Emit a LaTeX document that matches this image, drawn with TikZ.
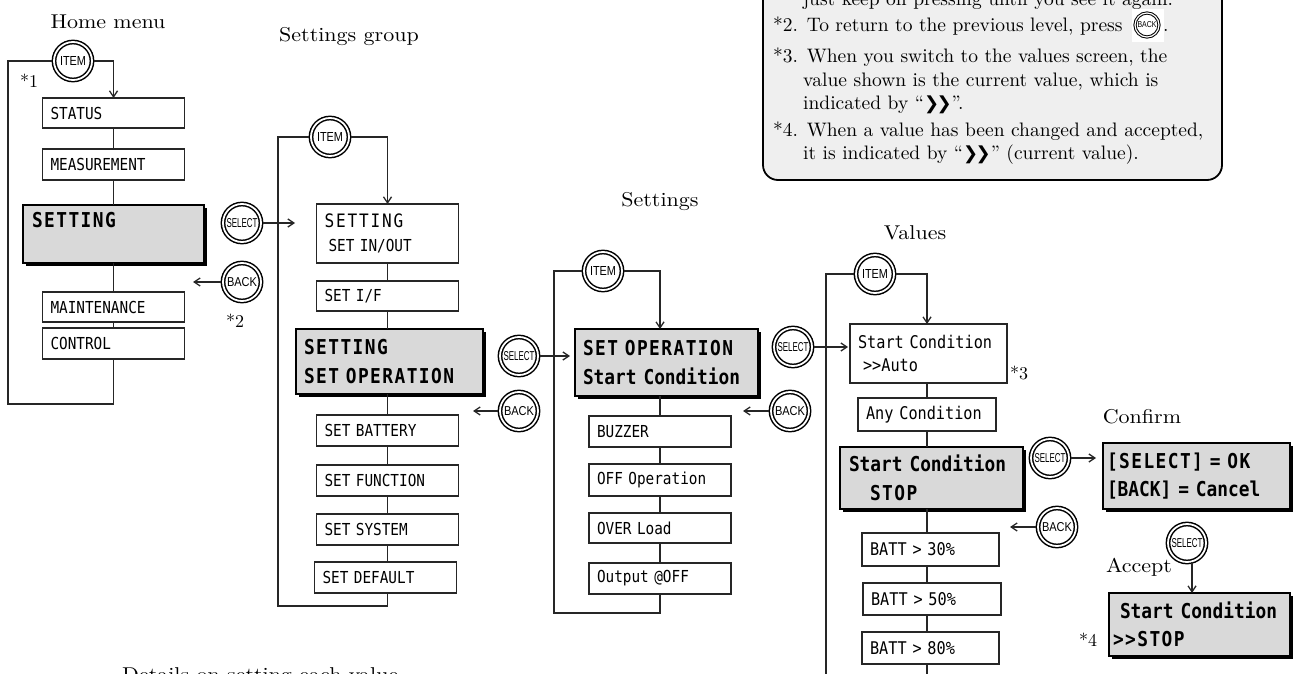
\documentclass[tikz,border=0pt]{standalone}
\usepackage{fontspec}
\usepackage{graphicx}
\usetikzlibrary{arrows.meta,shadows}
% text face: the 10pt design of Latin Modern at every size
\setmainfont{lmroman10-regular.otf}[BoldFont=lmroman10-bold.otf,ItalicFont=lmroman10-italic.otf]
\newfontfamily\lblfont{lmroman10-regular.otf}[FakeStretch=1.1]
% display-panel lettering (narrow monospaced sans)
\newfontfamily\lcd[FakeStretch=0.87]{DejaVu Sans Mono}
\newfontfamily\lcdsp[FakeStretch=0.87,LetterSpace=10]{DejaVu Sans Mono}
\newfontfamily\lcdbs[FakeStretch=0.87,LetterSpace=7]{DejaVu Sans Mono}
\newfontfamily\btnfont{Liberation Sans}
\newfontfamily\chevfont{DejaVu Sans}
\definecolor{lcdgray}{HTML}{D9D9D9}
\definecolor{panel}{HTML}{EFEFEF}
\newcommand\btnlbl[2]{\resizebox{#1}{9pt}{\btnfont #2}}
\newcommand\chevs{{\chevfont\bfseries\fontsize{18}{18}\selectfont ❯\kern-2.5pt❯}}
\begin{document}
\begin{tikzpicture}[x=1pt,y=-1pt,
  wire/.style={line width=1.3pt,draw=black!85},
  arr/.style={wire,-{Straight Barb[length=6pt,width=8pt]}},
  sbox/.style={draw=black!85,line width=1.3pt,fill=white,inner xsep=8pt,inner ysep=0pt,
    outer sep=0pt,align=left,font=\lcd\fontsize{16.5}{20}\selectfont},
  vbox/.style={sbox,font=\lcd\fontsize{17.5}{23}\selectfont},
  lcdbox/.style={draw=black,line width=2pt,fill=lcdgray,inner xsep=8pt,inner ysep=0pt,
    outer sep=0pt,align=left,
    drop shadow={shadow xshift=3pt,shadow yshift=-3pt,opacity=1,fill=black},
    font=\lcd\bfseries\fontsize{20.5}{28.5}\selectfont},
  btn/.style={circle,draw=black,double=white,line width=1.5pt,double distance=1.8pt,
    minimum size=38pt,inner sep=0pt,outer sep=2.4pt},
  lbl/.style={font=\lblfont\fontsize{20}{24}\selectfont,inner sep=0pt},
  starlbl/.style={font=\fontsize{18}{20}\selectfont,inner sep=0pt},
  notetxt/.style={font=\fontsize{19.5}{23}\selectfont,inner sep=0pt,anchor=base west}
]
\useasboundingbox (0,0) rectangle (1294,674);

% ---------- footnote panel ----------
\draw[line width=1.8pt,fill=panel,rounded corners=15pt] (763,-40) rectangle (1222,180);
\node[notetxt] (nt0) at (803,6) {just keep on pressing until you see it again.};
\node[notetxt] (nt1) at (773,32) {*2. To return to the previous level, press};
\fill[white] (1132,9) rectangle (1164,42);
\node[btn,minimum size=24pt,line width=1pt,double distance=1.2pt,outer sep=0pt] (ntback) at (1147,25)
  {\resizebox{19pt}{6pt}{\btnfont BACK}};
\node[notetxt] (nt1d) at (1163,32) {.};
\node[notetxt] (nt2) at (773,63) {*3. When you switch to the values screen, the};
\node[notetxt] (nt3) at (803,87) {value shown is the current value, which is};
\node[notetxt] (nt4) at (803,110) {indicated by “\chevs”.};
\node[notetxt] (nt5) at (773,137) {*4. When a value has been changed and accepted,};
\node[notetxt] (nt6) at (803,160) {it is indicated by “\chevs” (current value).};

% ---------- section titles ----------
\node[lbl] (lhome) at (108,22) {Home menu};
\node[lbl] (lgroup) at (349,37) {Settings group};
\node[lbl] (lsettings) at (660,202) {Settings};
\node[lbl] (lvalues) at (915,233) {Values};
\node[lbl] (lconfirm) at (1142,417) {Confirm};
\node[lbl] (laccept) at (1139,567) {Accept};
\node[lbl,anchor=north west] (ldetails) at (122,667) {Details on setting each value};

% ---------- home menu ----------
\node[btn] (it1) at (73,61) {\btnlbl{26pt}{ITEM}};
\node[sbox,text width=126pt,minimum height=30pt] (stat) at (113.5,113) {STATUS};
\node[sbox,text width=126pt,minimum height=31pt] (meas) at (113.5,164.5) {MEASUREMENT};
\node[lcdbox,inner xsep=9pt,text width=163pt,minimum height=58pt] (set1) at (113.5,234)
  {{\lcdbs SETTING}\\\mbox{}};
\node[sbox,text width=126pt,minimum height=30pt] (maint) at (113.5,307) {MAINTENANCE};
\node[sbox,text width=126pt,minimum height=31pt] (ctrl) at (113.5,343.5) {CONTROL};
\node[btn] (sel1) at (242,223) {\btnlbl{31pt}{SELECT}};
\node[btn] (back1) at (242,282) {\btnlbl{30pt}{BACK}};
\node[starlbl] (st1) at (29,81) {*1};
\node[starlbl] (st2) at (235,321) {*2};
\coordinate (lp1) at (8,404);
\coordinate (s1t) at (295,223);
\coordinate (b1t) at (193,282);

\draw[wire] (it1.west) -| (lp1) -| (ctrl.south);
\draw[arr] (it1.east) -| (stat.north);
\draw[wire] (stat.south) -- (meas.north);
\draw[wire] (meas.south) -- (set1.north);
\draw[wire] (set1.south) -- (maint.north);
\draw[wire] (maint.south) -- (ctrl.north);
\draw[arr] (sel1.east) -- (s1t);
\draw[arr] (back1.west) -- (b1t);

% ---------- settings group ----------
\node[btn] (it2) at (330,137) {\btnlbl{26pt}{ITEM}};
\node[sbox,text width=126pt,minimum height=59pt,font=\lcd\fontsize{16.5}{23.5}\selectfont] (inout) at (387.5,233.5)
  {{\lcdsp\fontsize{18.5}{23.5}\selectfont SETTING}\\\hspace*{4pt}SET IN/OUT};
\node[sbox,text width=126pt,minimum height=30pt] (sif) at (387.5,296) {SET I/F};
\node[lcdbox,text width=171pt,minimum height=65pt] (set2) at (389.5,361.5)
  {{\lcdbs SETTING}\\{\lcdbs SET OPERATION}};
\node[sbox,text width=126pt,minimum height=31pt] (sbat) at (387.5,430.5) {SET BATTERY};
\node[sbox,text width=126pt,minimum height=31pt] (sfun) at (387.5,480.5) {SET FUNCTION};
\node[sbox,text width=126pt,minimum height=31pt] (ssys) at (387.5,529.5) {SET SYSTEM};
\node[sbox,text width=126pt,minimum height=31pt] (sdef) at (385.5,577.5) {SET DEFAULT};
\node[btn] (sel2) at (519,356) {\btnlbl{31pt}{SELECT}};
\node[btn] (back2) at (519,411) {\btnlbl{30pt}{BACK}};
\coordinate (lp2) at (278,606);
\coordinate (s2t) at (570,356);
\coordinate (b2t) at (473,411);

\draw[wire] (it2.west) -| (lp2) -| (sbat.south |- sdef.south);
\draw[arr] (it2.east) -| (inout.north);
\draw[wire] (inout.south) -- (sif.north);
\draw[wire] (sif.south) -- (sif.south |- set2.north);
\draw[wire] (sbat.north |- set2.south) -- (sbat.north);
\draw[wire] (sbat.south) -- (sfun.north);
\draw[wire] (sfun.south) -- (ssys.north);
\draw[wire] (ssys.south) -- (ssys.south |- sdef.north);
\draw[arr] (sel2.east) -- (s2t);
\draw[arr] (back2.west) -- (b2t);

% ---------- settings ----------
\node[btn] (it3) at (603,271) {\btnlbl{26pt}{ITEM}};
\node[lcdbox,text width=167pt,minimum height=67pt] (set3) at (666.5,362.5)
  {{\lcdbs SET OPERATION}\\Start Condition};
\node[sbox,text width=126pt,minimum height=31pt] (buzz) at (660,431.5) {BUZZER};
\node[sbox,text width=126pt,minimum height=32pt] (offop) at (660,480) {OFF Operation};
\node[sbox,text width=126pt,minimum height=30pt] (overl) at (660,528) {OVER Load};
\node[sbox,text width=126pt,minimum height=31pt] (outp) at (660,578.5) {Output @OFF};
\node[btn] (sel3) at (793,347) {\btnlbl{31pt}{SELECT}};
\node[btn] (back3) at (790,411) {\btnlbl{30pt}{BACK}};
\coordinate (lp3) at (554,613);
\coordinate (s3t) at (848,347);
\coordinate (b3t) at (743,411);

\draw[wire] (it3.west) -| (lp3) -| (outp.south);
\draw[arr] (it3.east) -| (buzz.north |- set3.north);
\draw[wire] (buzz.north |- set3.south) -- (buzz.north);
\draw[wire] (buzz.south) -- (offop.north);
\draw[wire] (offop.south) -- (overl.north);
\draw[wire] (overl.south) -- (outp.north);
\draw[arr] (sel3.east) -- (s3t);
\draw[arr] (back3.west) -- (b3t);

% ---------- values ----------
\coordinate (c4) at (927,0);
\node[btn] (it4) at (875,274) {\btnlbl{26pt}{ITEM}};
\node[vbox,text width=141pt,minimum height=59pt] (auto) at (928.5,353.5)
  {Start Condition\\\hspace*{5pt}>>Auto};
\node[starlbl] (st3) at (1019,373) {*3};
\node[vbox,text width=122pt,minimum height=33pt] (anyc) at (927,414.5) {Any Condition};
\node[lcdbox,inner xsep=9pt,text width=165pt,minimum height=62pt] (set4) at (931.5,478)
  {Start Condition\\\hspace*{21pt}{\lcdbs STOP}};
\node[vbox,text width=121pt,minimum height=33pt] (b30) at (930.5,549.5) {BATT > 30\%};
\node[vbox,text width=122pt,minimum height=32pt] (b50) at (932,599) {BATT > 50\%};
\node[vbox,text width=121pt,minimum height=32pt] (b80) at (930.5,648) {BATT > 80\%};
\node[btn] (sel4) at (1050,458) {\btnlbl{31pt}{SELECT}};
\node[btn] (back4) at (1057,527) {\btnlbl{30pt}{BACK}};
\coordinate (lp4) at (826,700);
\coordinate (s4t) at (1096,458);
\coordinate (b4t) at (1010,527);

\draw[wire] (it4.west) -| (lp4);
\draw[arr] (it4.east) -| (c4 |- auto.north);
\draw[wire] (c4 |- auto.south) -- (c4 |- anyc.north);
\draw[wire] (c4 |- anyc.south) -- (c4 |- set4.north);
\draw[wire] (c4 |- set4.south) -- (c4 |- b30.north);
\draw[wire] (c4 |- b30.south) -- (c4 |- b50.north);
\draw[wire] (c4 |- b50.south) -- (c4 |- b80.north);
\draw[wire] (c4 |- b80.south) -- (c4 |- lp4);
\draw[arr] (sel4.east) -- (s4t);
\draw[arr] (back4.west) -- (b4t);

% ---------- confirm / accept ----------
\node[lcdbox,inner xsep=4pt,text width=179pt,minimum height=66pt] (conf) at (1196.5,476)
  {{\lcdbs [SELECT] = OK}\\{[BACK] = Cancel}};
\node[btn] (sel5) at (1187,543) {\btnlbl{31pt}{SELECT}};
\node[lcdbox,inner xsep=4pt,text width=173pt,minimum height=63pt] (stopb) at (1199.5,624.5)
  {\hspace*{7pt}Start Condition\\{\lcdbs >>STOP}};
\node[starlbl] (st4) at (1088,640) {*4};
\coordinate (acc) at (1192,562);
\draw[arr] (acc) -- (acc |- stopb.north);
\end{tikzpicture}
\end{document}
